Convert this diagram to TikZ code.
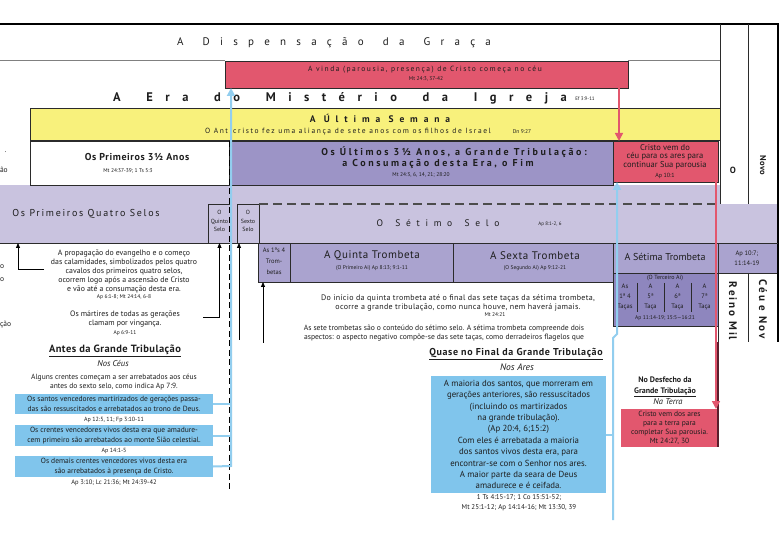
\documentclass[tikz,border=0pt]{standalone}
\usepackage{fontspec}
\setmainfont{PT Sans}
\usetikzlibrary{arrows.meta}
\definecolor{rd}{HTML}{E2576E}
\definecolor{mar}{HTML}{5A1E2C}
\definecolor{ylw}{HTML}{F8F17C}
\definecolor{pur}{HTML}{9C94C6}
\definecolor{lav}{HTML}{C9C3DF}
\definecolor{trm}{HTML}{AAA3CF}
\definecolor{tac}{HTML}{8E86BE}
\definecolor{blu}{HTML}{80C5EC}
\definecolor{bln}{HTML}{92CEEF}
\definecolor{dk}{HTML}{2B2B2B}
\definecolor{tk}{HTML}{1E1E1E}
\newcommand{\myfs}[2]{\fontsize{#1}{#2}\selectfont}
\newcommand{\myls}[1]{\addfontfeatures{LetterSpace=#1}}
\begin{document}
\begin{tikzpicture}[x=1pt,y=-1pt,
  every node/.style={inner sep=0pt,outer sep=0pt,text=tk},
  boxs/.style={draw=dk,line width=0.7pt,anchor=north west},
  tx/.style={align=center},
  ka/.style={draw=black,line width=0.8pt,-{Triangle[length=5pt,width=4pt]}},
  bl/.style={draw=bln,line width=2pt,-{Triangle[length=8pt,width=8pt]}},
  blc/.style={draw=bln,line width=2pt},
  rl/.style={draw=rd,line width=1.6pt,-{Triangle[length=8pt,width=8pt]}},
  rot/.style={rotate=-90,anchor=west},
  frag/.style={anchor=west,font={\myfs{7.5}{9}}},
]
\useasboundingbox (0,0) rectangle (780,540);
\fill[white] (0,0) rectangle (780,540);

% ---------- boxes ----------
\node[boxs,draw=none,fill=lav,minimum width=720pt,minimum height=19pt] (bandtop) at (0,185) {};
\node[boxs,draw=none,fill=lav,minimum width=778pt,minimum height=39pt] (band) at (0,204) {};
\node[boxs,fill=rd,minimum width=403pt,minimum height=27pt] (vinda) at (225,61) {};
\node[boxs,fill=ylw,line width=1pt,minimum width=690pt,minimum height=32pt] (ultsem) at (30,109) {};
\node[boxs,fill=white,minimum width=199pt,minimum height=44pt] (prim) at (30,141) {};
\node[boxs,fill=pur,minimum width=384pt,minimum height=44pt] (ultimos) at (229,141) {};
\node[boxs,fill=rd,minimum width=105pt,minimum height=41pt] (crv1) at (613,141) {};
\node[boxs,fill=lav,minimum width=23pt,minimum height=39pt] (quinto) at (208,204) {};
\node[boxs,fill=lav,minimum width=22pt,minimum height=39pt] (sexto) at (237,204) {};
\node[boxs,fill=trm,minimum width=32pt,minimum height=39pt] (tr14) at (258,243) {};
\node[boxs,fill=trm,minimum width=163pt,minimum height=39pt] (quinta) at (290,243) {};
\node[boxs,fill=trm,minimum width=160pt,minimum height=39pt] (sexta) at (453,243) {};
\node[boxs,fill=trm,minimum width=105pt,minimum height=30pt] (setima) at (613,243) {};
\node[boxs,fill=trm,minimum width=60pt,minimum height=30pt] (ap107) at (718,243) {};
\node[boxs,fill=tac,minimum width=105pt,minimum height=53pt] (tacas) at (613,273) {};

% ---------- frame lines ----------
\draw[black,line width=1.3pt] (0,24) -- (778,24) -- (778,342);
\draw[dk,line width=0.8pt] (720,24) -- (720,204) (748,24) -- (748,204) (748,273) -- (748,342) (718,273) -- (718,342);
\draw[dk,line width=0.8pt] (0,243) -- (778,243);
\draw[gray,line width=1pt] (0,61) -- (vinda.north west) (vinda.north east) -- (720,61);
\draw[dash pattern=on 9pt off 5pt,black!70,line width=1.1pt] (sexto.north east) -- (sexto.north -| ultsem.east);
\coordinate (dsh) at (229,492);
\draw[dash pattern=on 6pt off 3.5pt,black,line width=0.9pt] (prim.north east) -- (dsh);
\draw[dk,line width=0.5pt] (637,283) -- (637,312) (664,283) -- (664,312) (691,283) -- (691,312);

% ---------- top texts ----------
\node[tx,font={\myfs{11}{13}\myls{93}}] (tdisp) at (334,43) {A\hspace{6pt} Dispensação\hspace{6pt} da\hspace{6pt} Graça};
\node[tx,font={\myfs{7.5}{9}\myls{20}}] (vinda1) at (425,70) {A vinda (parousia, presença) de Cristo começa no céu};
\node[tx,font={\myfs{5.5}{7}}] (vinda2) at (426,78.5) {Mt 24:3, 37-42};
\node[tx,font={\myfs{12.5}{14}\bfseries\myls{100}}] (era) at (340,98) {A\hspace{10pt} Era\hspace{10pt} do\hspace{10pt} Mistério\hspace{10pt} da\hspace{10pt} Igreja};
\node[tx,font={\myfs{5}{6}}] (eraref) at (585,99) {Ef 3:9-11};
\node[tx,font={\myfs{9.5}{11}\bfseries\myls{62}}] (ult1) at (380,118) {A Última Semana};
\node[tx,font={\myfs{7.5}{9}\myls{21}}] (ult2) at (348,132) {O Anticristo fez uma aliança de sete anos com os filhos de Israel};
\node[tx,font={\myfs{5.5}{7}}] (ult3) at (522,132) {Dn 9:27};
\node[tx,font={\myfs{10}{12}\bfseries\myls{6}}] (p1) at (137,157) {Os Primeiros 3½ Anos};
\node[tx,font={\myfs{5.5}{7}}] (p2) at (128,171) {Mt 24:37-39; 1 Ts 5:3};
\node[tx,font={\myfs{10}{12}\bfseries\myls{26}}] (u1) at (454,152) {Os Últimos 3½ Anos, a Grande Tribulação:};
\node[tx,font={\myfs{10}{12}\bfseries\myls{26}}] (u2) at (438,164) {a Consumação desta Era, o Fim};
\node[tx,font={\myfs{5.5}{7}}] (u3) at (421,175) {Mt 24:3, 6, 14, 21; 28:20};
\node[tx,font={\myfs{8.5}{8.6}}] (c1t) at (665,156.5) {Cristo vem do\\céu para os ares para\\continuar Sua parousia};
\node[tx,font={\myfs{6}{7}}] (c1r) at (665,176) {Ap 10:1};
\node[tx,font={\myfs{9}{10}\bfseries}] (colO) at (733,170) {O};
\node[rot,font={\myfs{8.5}{10}\bfseries}] (colN) at (763,156) {Novo};

% left fragments
\node[frag] (fr1) at (5,152) {.};
\node[frag] (fr2) at (0,170) {ão};
\node[frag] (fr3) at (0,267) {o};
\node[frag] (fr4) at (0,280) {o};
\node[frag] (fr5) at (0,325) {ção};

% ---------- seals ----------
\node[tx,font={\myfs{10}{12}\myls{17}}] (q4) at (86,214) {Os Primeiros Quatro Selos};
\node[tx,font={\myfs{6}{8.5}}] (quintot) at (219.5,221) {O\\Quinto\\Selo};
\node[tx,font={\myfs{6}{8.5}}] (sextot) at (248,221) {O\\Sexto\\Selo};
\node[tx,font={\myfs{9.5}{11}\myls{60}}] (sel7) at (438,223) {O\hspace{4pt} Sétimo\hspace{4pt} Selo};
\node[tx,font={\myfs{5}{6}}] (sel7r) at (550,224) {Ap 8:1-2, 6};

% ---------- trumpets ----------
\node[tx,font={\myfs{6.5}{11}}] (tr14t) at (274,261) {As 1ªs 4\\Trom-\\betas};
\node[tx,font={\myfs{11}{13}\myls{5}}] (qt1) at (372,256) {A Quinta Trombeta};
\node[tx,font={\myfs{5.5}{7}}] (qt2) at (372,268) {(O Primeiro Ai) Ap 8:13; 9:1-11};
\node[tx,font={\myfs{11}{13}\myls{5}}] (sx1) at (535,256) {A Sexta Trombeta};
\node[tx,font={\myfs{5.5}{7}}] (sx2) at (535,268) {(O Segundo Ai) Ap 9:12-21};
\node[tx,font={\myfs{10}{12}}] (st1) at (665,257) {A Sétima Trombeta};
\node[tx,font={\myfs{6.5}{10}}] (ap107t) at (747,258) {Ap 10:7;\\11:14-19};
\node[tx,font={\myfs{6}{7}}] (tt0) at (665,278) {(O Terceiro Ai)};
\node[tx,font={\myfs{6.5}{9.8}}] (tc1) at (625,297) {As\\1ª 4\\Taças};
\node[tx,font={\myfs{6.5}{9.8}}] (tc2) at (650.5,297) {A\\5ª\\Taça};
\node[tx,font={\myfs{6.5}{9.8}}] (tc3) at (677.5,297) {A\\6ª\\Taça};
\node[tx,font={\myfs{6.5}{9.8}}] (tc4) at (704.5,297) {A\\7ª\\Taça};
\node[tx,font={\myfs{5.5}{7}}] (tt5) at (665,318) {Ap 11:14-19; 15:5—16:21};
\begin{scope}
\clip (718,273) rectangle (778,342);
\node[rot,font={\myfs{11}{12}\bfseries\myls{18}}] (reinot) at (733,282) {Reino Mil};
\node[rot,font={\myfs{11}{12}\bfseries\myls{18}}] (ceut) at (763,280) {Céu e Nov};
\end{scope}
\node[tx,font={\myfs{8}{9}\myls{4}}] (di1) at (458,302.5) {Do início da quinta trombeta até o final das sete taças da sétima trombeta,\\ocorre a grande tribulação, como nunca houve, nem haverá jamais.};
\node[tx,font={\myfs{5.5}{7}}] (di3) at (495,315) {Mt 24:21};
\node[tx,font={\myfs{7.6}{9.5}}] (as1) at (444,333) {As sete trombetas são o conteúdo do sétimo selo. A sétima trombeta compreende dois\\aspectos: o aspecto negativo compõe-se das sete taças, como derradeiros flagelos que};

% ---------- left column ----------
\node[tx,font={\myfs{7.8}{9.2}}] (prop) at (124,271.5) {A propagação do evangelho e o começo\\das calamidades, simbolizados pelos quatro\\cavalos dos primeiros quatro selos,\\ocorrem logo após a ascensão de Cristo\\e vão até a consumação desta era.};
\node[tx,font={\myfs{5.5}{7}}] (propr) at (124,297.5) {Ap 6:1-8; Mt 24:14, 6-8};
\node[tx,font={\myfs{7.8}{9.5}}] (mart) at (125,319) {Os mártires de todas as gerações\\clamam por vingança.};
\node[tx,font={\myfs{5.5}{7}}] (martr) at (125,333) {Ap 6:9-11};
\node[tx,font={\myfs{10.5}{12}\bfseries\myls{4}}] (antes) at (115,351) {\underline{Antes da Grande Tribulação}};
\node[tx,font={\myfs{8.5}{10}\itshape}] (ceus) at (113,363) {Nos Céus};
\node[tx,font={\myfs{7.5}{9.5}}] (alg) at (114,382) {Alguns crentes começam a ser arrebatados aos céus\\antes do sexto selo, como indica Ap 7:9.};
\node[boxs,draw=none,fill=blu,minimum width=198pt,minimum height=20pt,align=center,font={\myfs{7.5}{9.5}}] (bx1) at (15,394) {Os santos vencedores martirizados de gerações passa-\\das são ressuscitados e arrebatados ao trono de Deus.};
\node[tx,font={\myfs{6}{7}}] (bx1r) at (114,419.5) {Ap 12:5, 11; Fp 3:10-11};
\node[boxs,draw=none,fill=blu,minimum width=198pt,minimum height=21pt,align=center,font={\myfs{7.5}{9.5}}] (bx2) at (15,425) {Os crentes vencedores vivos desta era que amadure-\\cem primeiro são arrebatados ao monte Sião celestial.};
\node[tx,font={\myfs{6}{7}}] (bx2r) at (114,451) {Ap 14:1-5};
\node[boxs,draw=none,fill=blu,minimum width=198pt,minimum height=21pt,align=center,font={\myfs{7.5}{9.5}}] (bx3) at (15,456) {Os demais crentes vencedores vivos desta era\\são arrebatados à presença de Cristo.};
\node[tx,font={\myfs{6.5}{7}}] (bx3r) at (114,483) {Ap 3:10; Lc 21:36; Mt 24:39-42};

% ---------- middle column ----------
\node[tx,font={\myfs{10}{11}\bfseries\myls{6}}] (quase) at (516,354) {\underline{Quase no Final da Grande Tribulação}};
\node[tx,font={\myfs{9.5}{11}\itshape}] (ares) at (517,367) {Nos Ares};
\node[boxs,draw=none,fill=blu,minimum width=175pt,minimum height=117pt,align=center,font={\myfs{8.8}{11.4}}] (maior) at (431,376) {A maioria dos santos, que morreram em\\gerações anteriores, são ressuscitados\\(incluindo os martirizados\\na grande tribulação).\\(Ap 20:4, 6;15:2)\\Com eles é arrebatada a maioria\\dos santos vivos desta era, para\\encontrar-se com o Senhor nos ares.\\A maior parte da seara de Deus\\amadurece e é ceifada.};
\node[tx,font={\myfs{7}{10}}] (maiorr) at (519,503) {1 Ts 4:15-17; 1 Co 15:51-52;\\Mt 25:1-12; Ap 14:14-16; Mt 13:30, 39};

% ---------- right column ----------
\node[tx,font={\myfs{8}{10}\bfseries}] (desf) at (665,387) {No Desfecho da\\\underline{Grande Tribulação}};
\node[tx,font={\myfs{8.5}{10}\itshape}] (terra) at (668,402) {Na Terra};
\node[boxs,draw=none,fill=rd,minimum width=97pt,minimum height=38pt,align=center,font={\myfs{7.5}{9}}] (crv2) at (621,409) {Cristo vem dos ares\\para a terra para\\completar Sua parousia.\\Mt 24:27, 30};
\draw[mar,line width=1.6pt] (718,342) -- (crv2.south east);

% ---------- connectors ----------
\coordinate (bA) at (231,466);
\draw[blc] (bx1.east) -- (bx1.east -| bA);
\draw[blc] (bx2.east) -- (bx2.east -| bA);
\draw[bl] (bx3.east) -- (bA) -- (bA |- vinda.south);
\coordinate (bB1) at (613,520);
\coordinate (bB2) at (613,338);
\coordinate (bB3) at (617,334);
\draw[blc] (maior.east) -- (maior.east -| bB1);
\draw[bl] (bB1) -- (bB2) -- (bB3) -- (bB3 |- crv1.south);
\coordinate (rA) at (619,0);
\draw[rl] (vinda.south -| rA) -- (crv1.north -| rA);
\coordinate (rB) at (716,0);
\draw[rl] (crv1.south -| rB) -- (crv2.north -| rB);
\coordinate (k1) at (44,269);
\coordinate (k1t) at (18,243);
\draw[ka] (k1) -| (k1t);
\coordinate (k2) at (203,317);
\draw[ka] (k2) -| (quinto.south);
\coordinate (k3) at (239,340);
\draw[ka] (k3) -- (k3 |- sexto.south);
\coordinate (k4) at (263,343);
\draw[ka] (k4) -- (k4 |- tr14.south);
\end{tikzpicture}
\end{document}
